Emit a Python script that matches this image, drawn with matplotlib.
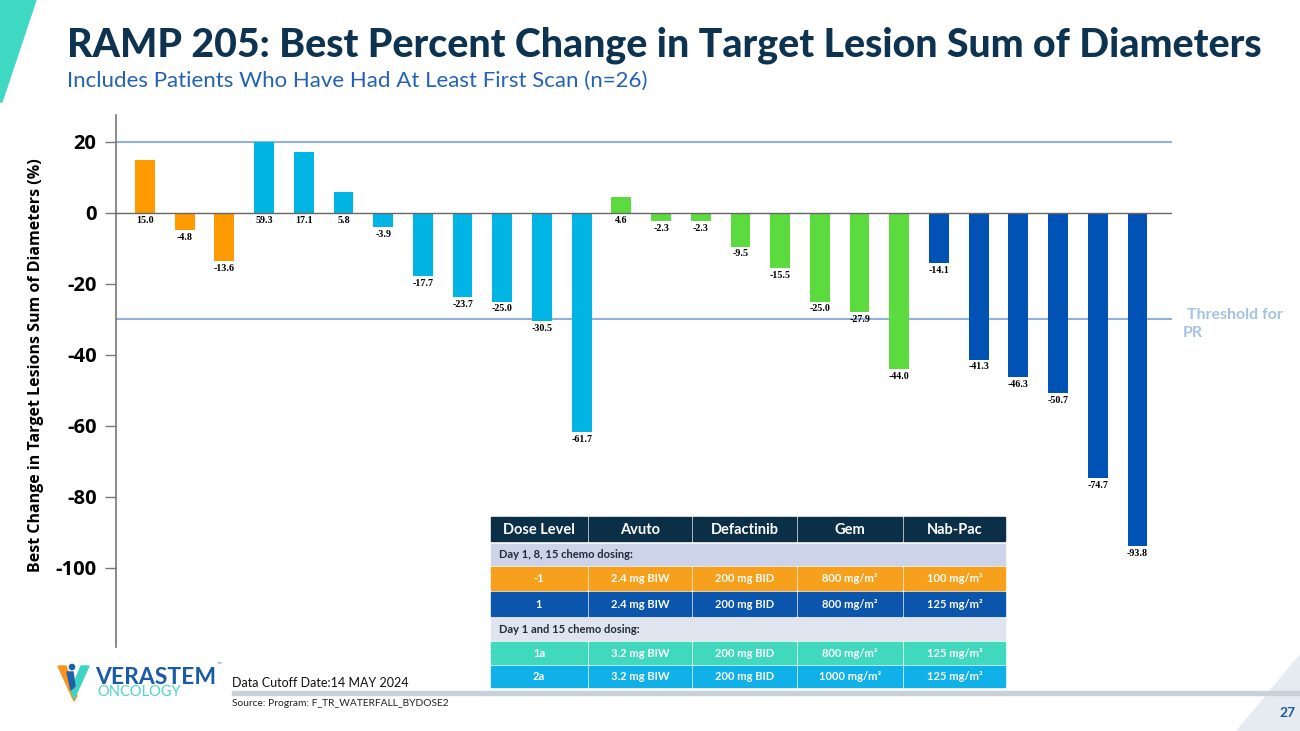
import matplotlib
matplotlib.use("Agg")
import matplotlib.pyplot as plt
from matplotlib.patches import Polygon, Rectangle
import numpy as np

# best % change per patient, grouped by dose level
values_m1 = [15.0, -4.8, -13.6]
values_2a = [59.3, 17.1, 5.8, -3.9, -17.7, -23.7, -25.0, -30.5, -61.7]
values_1a = [4.6, -2.3, -2.3, -9.5, -15.5, -25.0, -27.9, -44.0]
values_1 = [-14.1, -41.3, -46.3, -50.7, -74.7, -93.8]

group_colors = ["#ff9a00", "#00b4e4", "#5cdb3e", "#0052b4"]
y_ticks = [20, 0, -20, -40, -60, -80, -100]
cap = 20
pr_threshold = -30

table_header = ["Dose Level", "Avuto", "Defactinib", "Gem", "Nab-Pac"]
table_rows = [
    ["-1", "2.4 mg BIW", "200 mg BID", "800 mg/m²", "100 mg/m²"],
    ["1", "2.4 mg BIW", "200 mg BID", "800 mg/m²", "125 mg/m²"],
    ["1a", "3.2 mg BIW", "200 mg BID", "800 mg/m²", "125 mg/m²"],
    ["2a", "3.2 mg BIW", "200 mg BID", "1000 mg/m²", "125 mg/m²"],
]
table_row_colors = ["#f7a01c", "#0b55ad", "#40d9bd", "#10b1e8"]
section_labels = ["Day 1, 8, 15 chemo dosing:", "Day 1 and 15 chemo dosing:"]

W, H = 1300, 731
fig = plt.figure(figsize=(W / 100, H / 100), dpi=100)

# ---- waterfall
groups = [values_m1, values_2a, values_1a, values_1]
values = np.concatenate(groups)
colors = np.concatenate([[c] * len(g) for c, g in zip(group_colors, groups)])
x = np.arange(len(values))

ax = fig.add_axes([116 / W, 1 - 647 / H, (1172 - 116) / W, (647 - 115) / H])
ax.bar(x, np.minimum(values, cap), width=0.5, color=colors, zorder=2)
ax.set_xlim(-0.73, 25.87)
ax.set_ylim(-122.3, 27.6)
ax.axhline(0, color="#666666", lw=1.0, zorder=3)
ax.axhline(cap, color="#8fb3dc", lw=1.5, zorder=1)
ax.axhline(pr_threshold, color="#8fb3dc", lw=1.5, zorder=1)

for xi, v in zip(x, values):
    base = 0 if v >= 0 else v
    ax.annotate(f"{v:.1f}", xy=(xi, base), xytext=(0, -2), textcoords="offset points",
                ha="center", va="top", fontsize=7.2, fontweight="bold",
                family="Liberation Serif", zorder=4)

for s in ["top", "right", "bottom"]:
    ax.spines[s].set_visible(False)
ax.spines["left"].set_color("#777777")
ax.spines["left"].set_linewidth(1.2)
ax.set_xticks([])
ax.set_yticks(y_ticks)
ax.set_yticklabels([str(t) for t in y_ticks], fontsize=14.5, fontweight="bold", family="Open Sans")
ax.tick_params(axis="y", length=8, color="#777777", width=1.0, pad=6)
ax.set_ylabel("Best Change in Target Lesions Sum of Diameters (%)", fontsize=11.5,
              fontweight="bold", family="Open Sans")
ax.yaxis.set_label_coords(-72 / (1172 - 116), (647 - 365) / (647 - 115))

# ---- overlay in pixel coords for page decoration
ov = fig.add_axes([0, 0, 1, 1], zorder=5)
ov.set_xlim(0, W)
ov.set_ylim(H, 0)
ov.axis("off")

ov.add_patch(Polygon([(0, 0), (36, 0), (2, 102), (0, 102)], color="#3fd9c3"))
ov.add_patch(Polygon([(1237, 731), (1300, 655), (1300, 731)], color="#e6ebf1"))
ov.add_patch(Rectangle((232, 691), W - 232, 3.5, color="#c9d0d8"))

ov.text(67, 45, "RAMP 205: Best Percent Change in Target Lesion Sum of Diameters",
        fontsize=28.3, fontweight="black", color="#0e3350", family="Lato", va="center")
ov.text(67, 81, "Includes Patients Who Have Had At Least First Scan (n=26)",
        fontsize=16, color="#2463b3", family="Lato", va="center")

ov.text(1183, 324, " Threshold for\nPR", fontsize=11.5, fontweight="bold", color="#a6c2e3",
        family="Lato", va="center", ha="left", linespacing=1.3)

# table
col_edges = [490, 588, 692, 797, 903, 1006]
gap = 1.5


def cell_row(y0, y1, fill, texts, size):
    for i in range(len(col_edges) - 1):
        xa, xb = col_edges[i], col_edges[i + 1]
        ov.add_patch(Rectangle((xa + gap / 2, y0), xb - xa - gap, y1 - y0, color=fill))
        ov.text((xa + xb) / 2, (y0 + y1) / 2 + 0.5, texts[i], fontsize=size,
                fontweight="bold", color="white", family="Lato", ha="center", va="center")


def section_row(y0, y1, fill, label):
    ov.add_patch(Rectangle((col_edges[0] + gap / 2, y0), col_edges[-1] - col_edges[0] - gap,
                           y1 - y0, color=fill))
    ov.text(col_edges[0] + 9, (y0 + y1) / 2 + 0.5, label, fontsize=8, fontweight="bold",
            color="#1d2b3a", family="Lato", ha="left", va="center")


cell_row(517, 541, "#0b2f47", table_header, 10.5)
section_row(544, 565, "#cdd3e8", section_labels[0])
cell_row(567, 590, table_row_colors[0], table_rows[0], 8)
cell_row(592, 616, table_row_colors[1], table_rows[1], 8)
section_row(618, 640, "#dfe4ef", section_labels[1])
cell_row(642, 664, table_row_colors[2], table_rows[2], 8)
cell_row(666, 687, table_row_colors[3], table_rows[3], 8)

# logo
ov.add_patch(Polygon([(58, 666), (66, 666), (77, 696), (74, 701)], color="#f7941d"))
ov.add_patch(Polygon([(89, 666), (81, 666), (71, 690), (74, 699)], color="#3fd3c6"))
ov.add_patch(Polygon([(67, 672), (73, 672), (75, 686), (71, 690)], color="#1f5fa8"))
ov.add_patch(plt.Circle((72, 667), 2.6, color="#1f5fa8"))
ov.text(95, 677, "VERASTEM", fontsize=16.5, color="#1b5aa6", family="Lato",
        fontweight="bold", va="center", ha="left")
ov.text(97, 692, "ONCOLOGY", fontsize=10.5, color="#4fd5c9", family="Lato",
        va="center", ha="left")
ov.text(216, 665, "™", fontsize=4, color="#1b5aa6", va="center")

ov.text(232, 683, "Data Cutoff Date:14 MAY 2024", fontsize=9, color="#111111",
        family="Lato", va="center")
ov.text(232, 704, "Source: Program: F_TR_WATERFALL_BYDOSE2", fontsize=7.4, color="#222222",
        family="Lato", va="center")
ov.text(1296, 713, "27", fontsize=10, fontweight="bold", color="#1b5aa6", family="Lato",
        va="center", ha="right")

fig.savefig("out.png", dpi=100)
